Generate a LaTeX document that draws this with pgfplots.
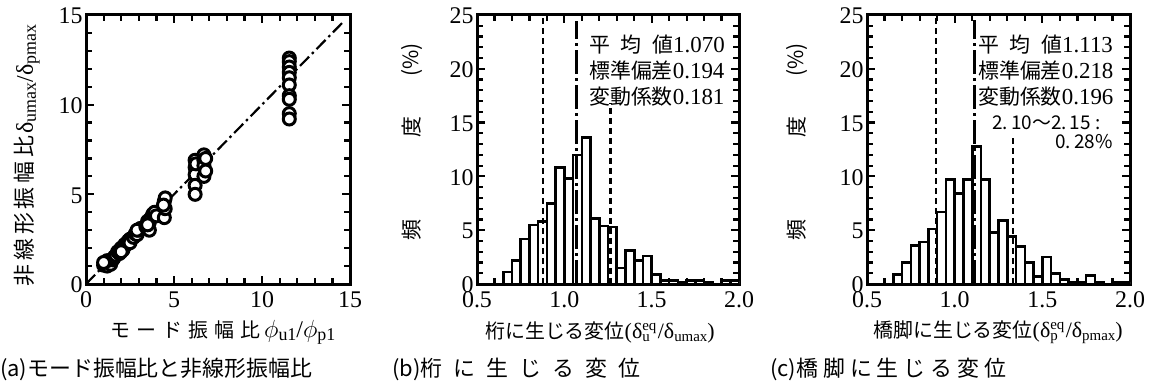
\documentclass[border=0pt]{standalone}
\usepackage{fontspec}
\setmainfont{Liberation Serif}
\newfontfamily\cjk{Noto Sans CJK JP}
\usepackage{pgfplots}
\pgfplotsset{compat=1.18}
\newcommand{\fs}[1]{\fontsize{#1}{#1}\selectfont}
\pgfplotsset{
  myaxis/.style={
    scale only axis, anchor=south west, height=269bp,
    axis line style={line width=3bp},
    tick align=inside,
    every tick/.append style={black, line width=2.2bp},
    major tick length=8bp, minor tick length=6bp,
    tick label style={font=\fs{24}},
    xticklabel style={yshift=-4bp},
    yticklabel style={yshift=-1bp},
    /pgf/number format/assume math mode=true,
  }
}
\begin{document}
\begin{tikzpicture}[x=1bp,y=1bp]
\path[use as bounding box] (0,0) rectangle (1153,387);

% ---------------- (a)
\begin{axis}[myaxis, at={(86bp,103bp)}, width=264bp,
  xmin=0, xmax=15, ymin=0, ymax=15,
  xtick={0,5,10,15}, ytick={0,5,10,15}, minor tick num=4]
\addplot[black, line width=2.2bp, dash pattern=on 13bp off 4bp on 2.5bp off 4bp] coordinates {(0,0) (14.7,14.7)};
\addplot[only marks, mark=*, mark size=6bp, mark options={line width=3bp, fill=white, draw=black}] coordinates {
(1.0,1.05) (1.1,1.15) (1.2,1.0) (1.3,1.2) (1.4,1.1) (1.5,1.35) (1.55,1.4) (1.2,1.3) (1.6,1.5) (1.0,1.2)
(1.7,1.6) (1.8,1.8) (1.9,1.7) (2.0,2.0) (2.1,1.9) (2.2,2.2) (2.3,2.2) (2.4,2.4) (2.5,2.5) (2.5,2.3) (2.0,1.8)
(2.7,2.6) (2.8,2.8) (2.9,2.75) (3.0,3.0) (3.1,3.1) (2.9,3.0)
(3.4,3.2) (3.5,3.5) (3.6,3.45) (3.7,3.7) (3.8,3.9) (3.9,4.0) (4.0,3.8) (3.6,3.0) (3.5,3.3)
(4.45,4.6) (4.5,4.8) (4.45,3.7) (4.5,4.2) (4.4,4.4)
(6.2,6.9) (6.2,6.5) (6.2,6.1) (6.2,5.5) (6.2,5.0) (6.25,6.7)
(6.7,7.2) (6.7,6.9) (6.7,6.6) (6.7,6.0) (6.8,7.0) (6.8,6.3)
(11.55,12.6) (11.55,12.4) (11.55,12.1) (11.55,11.8) (11.55,11.5) (11.55,11.1) (11.55,10.5) (11.55,10.3) (11.55,9.5) (11.55,9.2)
};
\end{axis}

% ---------------- (b)
\begin{axis}[myaxis, at={(477bp,103bp)}, width=262bp,
  xmin=0.5, xmax=2, ymin=0, ymax=25,
  xtick={0.5,1,1.5,2}, xticklabels={0.5,1.0,1.5,2.0},
  ytick={0,5,10,15,20,25}, minor x tick num=4, minor y tick num=4]
\addplot[ybar interval, fill=white, draw=black, line width=2.6bp] table {
x y
0.65 1.1
0.70 2.2
0.75 4.2
0.80 5.5
0.85 5.8
0.90 7.5
0.95 10.8
1.00 9.8
1.05 12.0
1.10 13.6
1.15 6.1
1.20 5.4
1.25 5.3
1.30 1.5
1.35 3.1
1.40 2.2
1.45 2.6
1.50 0.9
1.55 0.3
1.60 0.3
1.65 0.2
1.70 0.3
1.75 0.3
1.80 0.2
1.85 0
1.90 0.3
1.95 0.3
2.00 0
};
\addplot[black, line width=2.2bp, dash pattern=on 6bp off 4bp] coordinates {(0.876,0) (0.876,25)};
\addplot[black, line width=2.2bp, dash pattern=on 6bp off 4bp] coordinates {(1.264,0) (1.264,16.8)};
\addplot[black, line width=2.2bp, dash pattern=on 24bp off 4bp on 3bp off 4bp] coordinates {(1.070,0) (1.070,24.4)};
\end{axis}

% ---------------- (c)
\begin{axis}[myaxis, at={(867bp,103bp)}, width=263bp,
  xmin=0.5, xmax=2, ymin=0, ymax=25,
  xtick={0.5,1,1.5,2}, xticklabels={0.5,1.0,1.5,2.0},
  ytick={0,5,10,15,20,25}, minor x tick num=4, minor y tick num=4]
\addplot[ybar interval, fill=white, draw=black, line width=2.6bp] table {
x y
0.65 0.9
0.70 2.0
0.75 3.6
0.80 3.9
0.85 5.1
0.90 6.7
0.95 9.7
1.00 8.4
1.05 9.7
1.10 12.8
1.15 9.7
1.20 4.8
1.25 5.9
1.30 4.4
1.35 3.5
1.40 2.0
1.45 0.7
1.50 2.5
1.55 1.0
1.60 0.4
1.65 0.2
1.70 0.2
1.75 0.8
1.80 0.2
1.85 0
1.90 0.2
1.95 0.2
2.00 0
};
\addplot[black, line width=2.2bp, dash pattern=on 6bp off 4bp] coordinates {(0.895,0) (0.895,25)};
\addplot[black, line width=2.2bp, dash pattern=on 6bp off 4bp] coordinates {(1.331,0) (1.331,13.6)};
\addplot[black, line width=2.2bp, dash pattern=on 24bp off 4bp on 3bp off 4bp] coordinates {(1.113,0) (1.113,24.5)};
\end{axis}

% ---------------- stats text (b)
\node[anchor=west, inner sep=0] at (589,342) {{\cjk\fs{21}\makebox[84bp][s]{平\hfill 均\hfill 値}}{\fs{23}1.070}};
\node[anchor=west, inner sep=0] at (589,316) {{\cjk\fs{21}標準偏差}{\fs{23}0.194}};
\node[anchor=west, inner sep=0] at (589,290) {{\cjk\fs{21}変動係数}{\fs{23}0.181}};
% ---------------- stats text (c)
\node[anchor=west, inner sep=0] at (978,342) {{\cjk\fs{21}\makebox[84bp][s]{平\hfill 均\hfill 値}}{\fs{23}1.113}};
\node[anchor=west, inner sep=0] at (978,316) {{\cjk\fs{21}標準偏差}{\fs{23}0.218}};
\node[anchor=west, inner sep=0] at (978,290) {{\cjk\fs{21}変動係数}{\fs{23}0.196}};
\node[anchor=west, inner sep=0] at (992,264) {\cjk\fs{19}2.\,10〜2.\,15 :};
\node[anchor=east, inner sep=0] at (1113,245) {\cjk\fs{19}0.\,28\%};

% ---------------- y labels
\node[rotate=90, anchor=west, inner sep=0] at (27,100) {{\cjk\fs{22}非\hspace{4bp}線\hspace{4bp}形\hspace{4bp}振\hspace{4bp}幅\hspace{4bp}比}\hspace{2bp}{\fs{24}δ}\raisebox{-3bp}{\fs{18}umax}{\fs{24}/δ}\raisebox{-3bp}{\fs{18}pmax}};
\node[rotate=90, inner sep=0] at (412,157) {\cjk\fs{21}頻};
\node[rotate=90, inner sep=0] at (412,260) {\cjk\fs{21}度};
\node[rotate=90, inner sep=0] at (412,327) {\cjk\fs{21}(\%)};
\node[rotate=90, inner sep=0] at (797,157) {\cjk\fs{21}頻};
\node[rotate=90, inner sep=0] at (797,260) {\cjk\fs{21}度};
\node[rotate=90, inner sep=0] at (797,327) {\cjk\fs{21}(\%)};

% ---------------- x labels
\node[inner sep=0] at (223,55) {{\cjk\fs{20}モ\hspace{6bp}ー\hspace{6bp}ド\hspace{6bp}振\hspace{6bp}幅\hspace{6bp}比}\hspace{4bp}{\fs{24}$\phi$}\raisebox{-3bp}{\fs{18}u1}{\fs{24}/$\phi$}\raisebox{-3bp}{\fs{18}p1}};
\node[inner sep=0] at (600,55) {{\cjk\fs{20}桁に生じる変位}{\fs{22}(δ}\raisebox{-3bp}{\fs{15}\makebox[0pt][l]{\raisebox{11bp}{eq}}u\hspace{8bp}}{\fs{22}/δ}\raisebox{-3bp}{\fs{15}umax}{\fs{22})}};
\node[inner sep=0] at (998,55) {{\cjk\fs{20}橋脚に生じる変位}{\fs{22}(δ}\raisebox{-3bp}{\fs{15}\makebox[0pt][l]{\raisebox{11bp}{eq}}p\hspace{8bp}}{\fs{22}/δ}\raisebox{-3bp}{\fs{15}pmax}{\fs{22})}};

% ---------------- captions
\node[anchor=west, inner sep=0] at (0,18) {\cjk\fs{22}(a)モード振幅比と非線形振幅比};
\node[anchor=west, inner sep=0] at (392,18) {\cjk\fs{22}(b)桁\hspace{11bp}に\hspace{11bp}生\hspace{11bp}じ\hspace{11bp}る\hspace{11bp}変\hspace{11bp}位};
\node[anchor=west, inner sep=0] at (770,18) {\cjk\fs{22}(c)橋\hspace{5bp}脚\hspace{5bp}に\hspace{5bp}生\hspace{5bp}じ\hspace{5bp}る\hspace{5bp}変\hspace{5bp}位};
\end{tikzpicture}
\end{document}
